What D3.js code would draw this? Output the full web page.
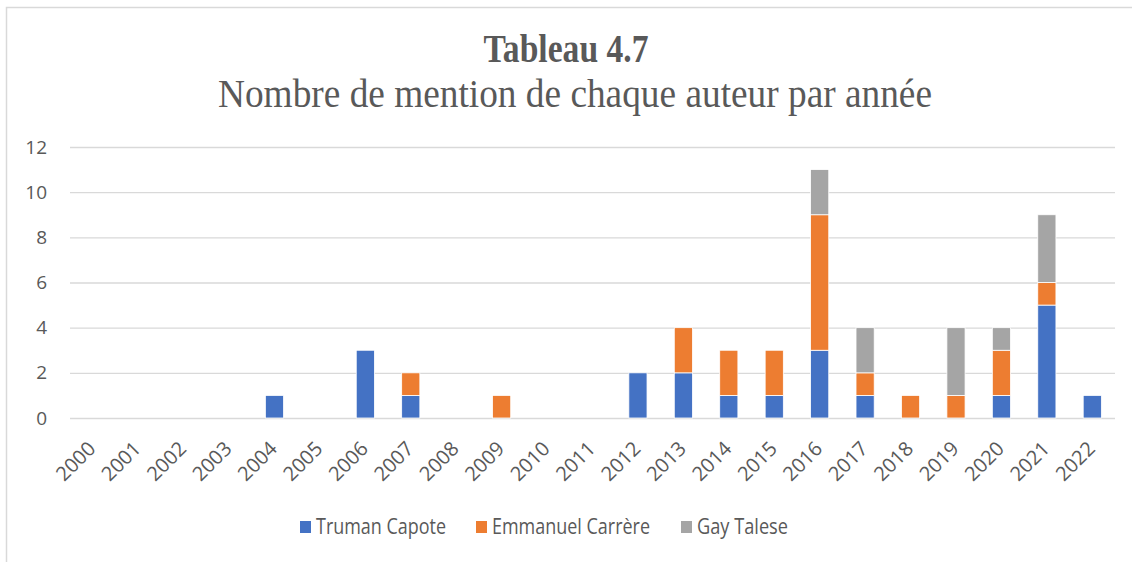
<!DOCTYPE html>
<html>
<head>
<meta charset="utf-8">
<script src="https://cdn.jsdelivr.net/npm/d3@7"></script>
<style>
  body{margin:0;background:#fff}
  text{fill:#595959}
</style>
</head>
<body>
<svg id="chart" width="1132" height="562"></svg>
<script>
// data
const years=["2000","2001","2002","2003","2004","2005","2006","2007","2008","2009","2010","2011",
  "2012","2013","2014","2015","2016","2017","2018","2019","2020","2021","2022"]
const capote =[0,0,0,0,1,0,3,1,0,0,0,0,2,2,1,1,3,1,0,0,1,5,1]
const carrere=[0,0,0,0,0,0,0,1,0,1,0,0,0,2,2,2,6,1,1,1,2,1,0]
const talese =[0,0,0,0,0,0,0,0,0,0,0,0,0,0,0,0,2,2,0,3,1,3,0]
const seriesNames=["Truman Capote","Emmanuel Carrère","Gay Talese"]
const colors=["#4472C4","#ED7D31","#A5A5A5"]
const yTicks=[0,2,4,6,8,10,12]

const svg=d3.select("#chart")
const W=1132, H=562
const sans='"Open Sans", "Liberation Sans", sans-serif'
const serif='"Liberation Serif", "DejaVu Serif", serif'

// chart frame (runs off the right and bottom edges)
svg.append("rect").attr("x",6.5).attr("y",7.5).attr("width",W).attr("height",H)
  .attr("fill","none").attr("stroke","#D9D9D9").attr("stroke-width",1.5)

// titles
svg.append("text").attr("x",566).attr("y",62).attr("text-anchor","middle")
  .attr("font-family",serif).attr("font-weight","bold").attr("font-size",39)
  .attr("textLength",165).attr("lengthAdjust","spacingAndGlyphs")
  .text("Tableau 4.7")
svg.append("text").attr("x",575).attr("y",107).attr("text-anchor","middle")
  .attr("font-family",serif).attr("font-size",41)
  .attr("textLength",714).attr("lengthAdjust","spacingAndGlyphs")
  .text("Nombre de mention de chaque auteur par année")

const x=d3.scaleBand().domain(years).range([70,1115]).paddingInner(0.6).paddingOuter(0.3)
const y=d3.scaleLinear().domain([0,12]).range([418,147])

// gridlines
svg.append("g").selectAll("line").data(yTicks).join("line")
  .attr("x1",70).attr("x2",1115)
  .attr("y1",d=>y(d)+0.5).attr("y2",d=>y(d)+0.5)
  .attr("stroke","#D9D9D9").attr("stroke-width",1.3)

// y labels
const yAxis=svg.append("g").attr("transform","translate(70,0)")
  .call(d3.axisLeft(y).tickValues(yTicks).tickSize(0).tickPadding(23))
yAxis.select(".domain").remove()
yAxis.selectAll("text").attr("font-family",sans).attr("font-size",19).attr("fill","#595959")

// stacked bars
const rows=years.map((yr,i)=>({year:yr,"Truman Capote":capote[i],"Emmanuel Carrère":carrere[i],"Gay Talese":talese[i]}))
const stacked=d3.stack().keys(seriesNames)(rows)
svg.append("g").selectAll("g").data(stacked).join("g")
  .attr("fill",(d,i)=>colors[i])
  .selectAll("rect").data(d=>d.filter(p=>p[1]>p[0])).join("rect")
  .attr("x",d=>x(d.data.year)).attr("width",x.bandwidth())
  .attr("y",d=>y(d[1])).attr("height",d=>y(d[0])-y(d[1]))
  .attr("stroke","#fff").attr("stroke-width",0.8)

// x labels
const xAxis=svg.append("g").attr("transform","translate(0,418)")
  .call(d3.axisBottom(x).tickSize(0).tickPadding(0))
xAxis.select(".domain").remove()
xAxis.selectAll("text")
  .attr("font-family",sans).attr("font-size",20).attr("fill","#595959")
  .attr("text-anchor","end").attr("dy",0).attr("y",0)
  .attr("transform","translate(4,32) rotate(-45)")

// legend
const legX=[300,476,681]
const legW=[130,158,91]
const leg=svg.append("g").selectAll("g").data(seriesNames).join("g")
  .attr("transform",(d,i)=>`translate(${legX[i]},521)`)
leg.append("rect").attr("width",11).attr("height",12).attr("fill",(d,i)=>colors[i])
leg.append("text").attr("x",16).attr("y",13).attr("font-family",sans).attr("font-size",21)
  .attr("textLength",(d,i)=>legW[i]).attr("lengthAdjust","spacingAndGlyphs")
  .attr("fill","#595959").text(d=>d)
</script>
</body>
</html>
